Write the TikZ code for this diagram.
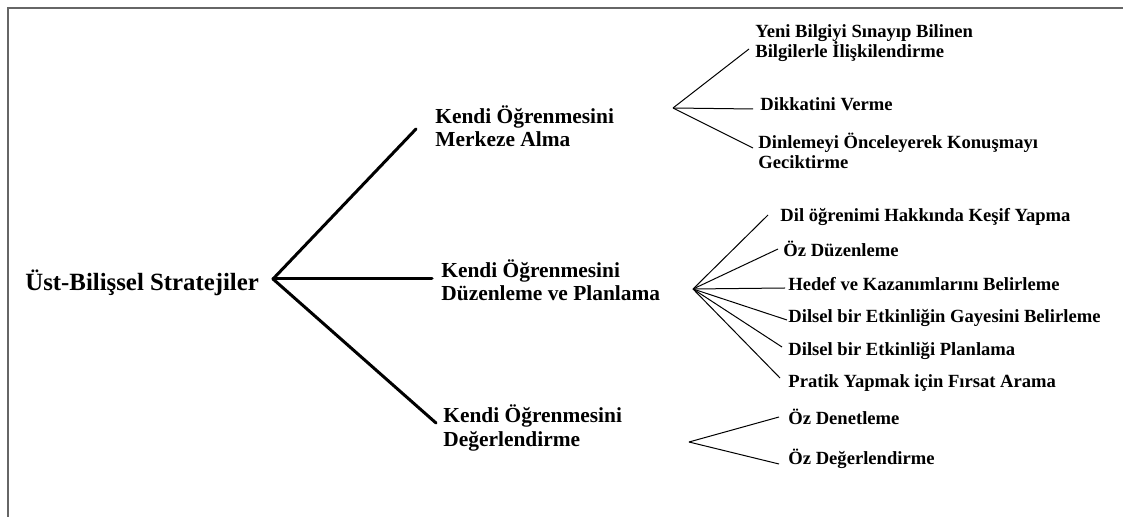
\documentclass[tikz,border=0pt]{standalone}
\usepackage{fontspec}
\setmainfont{Liberation Serif}
\usepackage{tikz}

\tikzset{
  kok/.style={anchor=west, inner sep=0pt, font=\fontsize{12.4}{14}\selectfont\bfseries},
  orta/.style={anchor=west, inner sep=0pt, align=left, font=\fontsize{10.7}{11.6}\selectfont\bfseries},
  alt/.style={anchor=west, inner sep=0pt, align=left, font=\fontsize{9.3}{10.2}\selectfont\bfseries},
  kalin/.style={line width=1.5pt, line cap=round},
  ince/.style={line width=0.5pt}
}

\begin{document}
\begin{tikzpicture}[x=0.5pt,y=-0.5pt]
\useasboundingbox (0,0) rectangle (1123,517);
\draw[black!60, line width=0.8pt] (1123,8) -- (8,8) -- (8,517);

% ana dal
\node[kok] (kok) at (25,283) {Üst-Bilişsel Stratejiler};
\coordinate (k0) at (273,279);

\node[orta] (merkez) at (435,126) {Kendi Öğrenmesini\\Merkeze Alma};
\node[orta] (duzen) at (441,280) {Kendi Öğrenmesini\\Düzenleme ve Planlama};
\node[orta] (deger) at (443,428) {Kendi Öğrenmesini\\Değerlendirme};
\coordinate (merkezu) at (416,129);
\coordinate (duzenu) at (432,279);
\coordinate (degeru) at (436,423);
\draw[kalin] (k0) -- (merkezu);
\draw[kalin] (k0) -- (duzenu);
\draw[kalin] (k0) -- (degeru);

% merkeze alma
\coordinate (m0) at (673,108);
\node[alt] (m1) at (755,43) {Yeni Bilgiyi Sınayıp Bilinen\\Bilgilerle İlişkilendirme};
\node[alt] (m2) at (760,104) {Dikkatini Verme};
\node[alt] (m3) at (758,151) {Dinlemeyi Önceleyerek Konuşmayı\\Geciktirme};
\coordinate (m1u) at (749,49);
\coordinate (m2u) at (753,109);
\coordinate (m3u) at (753,148);
\draw[ince] (m0) -- (m1u);
\draw[ince] (m0) -- (m2u);
\draw[ince] (m0) -- (m3u);

% duzenleme ve planlama
\coordinate (d0) at (693,289);
\node[alt] (d1) at (780,217) {Dil öğrenimi Hakkında Keşif Yapma};
\node[alt] (d2) at (783,249) {Öz Düzenleme};
\node[alt] (d3) at (788,284) {Hedef ve Kazanımlarını Belirleme};
\node[alt] (d4) at (788,318) {Dilsel bir Etkinliğin Gayesini Belirleme};
\node[alt] (d5) at (788,351) {Dilsel bir Etkinliği Planlama};
\node[alt] (d6) at (788,383) {Pratik Yapmak için Fırsat Arama};
\coordinate (d1u) at (768,215);
\coordinate (d2u) at (778,249);
\coordinate (d3u) at (785,288);
\coordinate (d4u) at (787,320);
\coordinate (d5u) at (782,347);
\coordinate (d6u) at (780,378);
\draw[ince] (d0) -- (d1u);
\draw[ince] (d0) -- (d2u);
\draw[ince] (d0) -- (d3u);
\draw[ince] (d0) -- (d4u);
\draw[ince] (d0) -- (d5u);
\draw[ince] (d0) -- (d6u);

% degerlendirme
\coordinate (g0) at (689,442);
\node[alt] (g1) at (788,417) {Öz Denetleme};
\node[alt] (g2) at (788,459) {Öz Değerlendirme};
\coordinate (g1u) at (779,417);
\coordinate (g2u) at (779,464);
\draw[ince] (g0) -- (g1u);
\draw[ince] (g0) -- (g2u);
\end{tikzpicture}
\end{document}
